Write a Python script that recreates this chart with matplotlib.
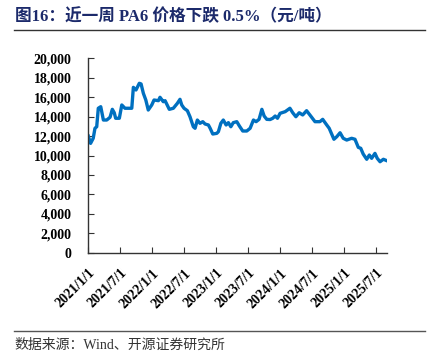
import matplotlib
matplotlib.use("Agg")
import matplotlib.pyplot as plt
import matplotlib.dates as mdates
from matplotlib.lines import Line2D
import pandas as pd

title = "图16：近一周 PA6 价格下跌 0.5%（元/吨）"
source = "数据来源：Wind、开源证券研究所"

dates = [
    "2021-01-01", "2021-01-14", "2021-01-29", "2021-02-08", "2021-02-18", "2021-02-27",
    "2021-03-13", "2021-03-28", "2021-04-16", "2021-05-05", "2021-05-18", "2021-05-29",
    "2021-06-06", "2021-06-27", "2021-07-11", "2021-07-29", "2021-09-06", "2021-09-15",
    "2021-09-30", "2021-10-19", "2021-10-29", "2021-11-11", "2021-11-25", "2021-12-09",
    "2021-12-29", "2022-01-11", "2022-02-05", "2022-02-14", "2022-03-05", "2022-03-15",
    "2022-04-08", "2022-05-01", "2022-05-24", "2022-06-08", "2022-06-18", "2022-07-01",
    "2022-07-20", "2022-08-04", "2022-08-23", "2022-09-02", "2022-09-15", "2022-09-30",
    "2022-10-16", "2022-10-29", "2022-11-17", "2022-11-27", "2022-12-12", "2023-01-04",
    "2023-01-13", "2023-01-27", "2023-02-10", "2023-02-26", "2023-03-11", "2023-03-25",
    "2023-04-08", "2023-04-28", "2023-05-13", "2023-06-01", "2023-06-24", "2023-07-13",
    "2023-08-01", "2023-08-16", "2023-09-02", "2023-09-18", "2023-10-01", "2023-10-16",
    "2023-11-04", "2023-11-19", "2023-12-03", "2023-12-16", "2023-12-31", "2024-01-29",
    "2024-02-25", "2024-03-12", "2024-03-30", "2024-04-18", "2024-05-08", "2024-05-30",
    "2024-06-18", "2024-07-17", "2024-08-14", "2024-08-30", "2024-09-22", "2024-10-06",
    "2024-11-02", "2024-11-18", "2024-12-07", "2024-12-25", "2025-01-14", "2025-02-11",
    "2025-03-02", "2025-03-21", "2025-04-04", "2025-04-18", "2025-05-08", "2025-05-23",
    "2025-06-05", "2025-06-24", "2025-07-07", "2025-07-23", "2025-08-11", "2025-08-30",
]
prices = [
    12000, 11250, 11770, 12800, 12960, 14860,
    15020, 13650, 13650, 13930, 14750, 14400,
    13830, 13830, 15200, 14860, 14860, 17010,
    16740, 17430, 17360, 16400, 15710, 14680,
    15200, 15710, 15640, 15990, 15530, 15640,
    14750, 14860, 15370, 15780, 15200, 14860,
    14610, 13990, 12960, 12800, 13650, 13310,
    13480, 13240, 13140, 12800, 12210, 12280,
    12450, 13310, 13650, 13140, 13380, 12960,
    13380, 13480, 13030, 12520, 12520, 12800,
    13650, 13480, 13720, 14750, 14060, 13720,
    13700, 13830, 14060, 13830, 14340, 14510,
    14860, 14400, 13990, 14400, 14170, 14610,
    14170, 13480, 13480, 13720, 13140, 12800,
    11670, 11930, 12340, 11770, 11590, 11770,
    11670, 10840, 10740, 10150, 9610, 10050,
    9710, 10220, 9710, 9360, 9610, 9470,
]
tick_dates = ["2021-01-01", "2021-07-01", "2022-01-01", "2022-07-01", "2023-01-01",
              "2023-07-01", "2024-01-01", "2024-07-01", "2025-01-01", "2025-07-01"]
tick_labels = ["2021/1/1", "2021/7/1", "2022/1/1", "2022/7/1", "2023/1/1",
               "2023/7/1", "2024/1/1", "2024/7/1", "2025/1/1", "2025/7/1"]
y_ticks = list(range(0, 20001, 2000))

serif = ["Liberation Serif", "Noto Sans CJK SC", "DejaVu Sans"]
plt.rcParams["font.family"] = serif

x = pd.to_datetime(dates)
W, H = 444, 361
fig = plt.figure(figsize=(W / 100, H / 100), dpi=100)
ax = fig.add_axes([88.3 / W, 1 - 252.7 / H, (386.7 - 88.3) / W, (252.7 - 58.3) / H])

ax.plot(x, prices, color="#0070C0", lw=2.4, solid_joinstyle="round")
ax.set_xlim(x[0], x[-1])
ax.set_ylim(0, 20000)
ax.set_yticks(y_ticks)
ax.set_yticklabels([f"{v:,}" for v in y_ticks], fontsize=10, fontweight="bold")
ax.set_xticks(pd.to_datetime(tick_dates))
ax.set_xticklabels(tick_labels, fontsize=10, fontweight="bold", rotation=45,
                   ha="right", rotation_mode="anchor")
for s in ["top", "right"]:
    ax.spines[s].set_visible(False)
for s in ["left", "bottom"]:
    ax.spines[s].set_color("#333333")
    ax.spines[s].set_linewidth(1.0)
ax.tick_params(axis="y", direction="in", length=4, pad=12, colors="#333333", labelcolor="black")
ax.tick_params(axis="x", direction="in", length=4, pad=10, colors="#333333", labelcolor="black")

fig.text(15 / W, 1 - 17 / H, title, fontsize=12, fontweight="bold", color="#1c2a6b",
         va="center", ha="left", family=serif)
fig.add_artist(Line2D([14 / W, 425 / W], [1 - 29.5 / H, 1 - 29.5 / H], color="#333333", lw=1.0))
fig.add_artist(Line2D([14 / W, 425 / W], [1 - 331 / H, 1 - 331 / H], color="#555555", lw=1.0))
fig.text(14 / W, 1 - 345 / H, source, fontsize=10, color="#333333", va="center", ha="left",
         family=serif)

fig.savefig("out.png", dpi=100)
